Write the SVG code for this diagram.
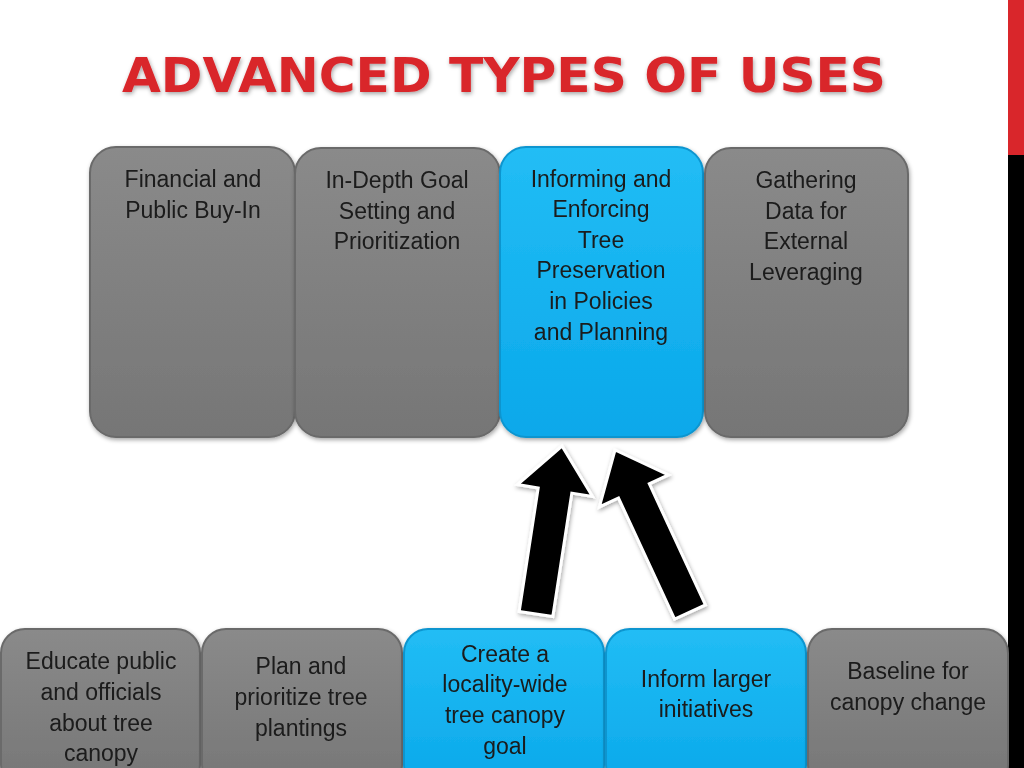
<svg xmlns="http://www.w3.org/2000/svg" width="1024" height="768" viewBox="0 0 1024 768">
<defs>
<linearGradient id="g" x1="0" y1="0" x2="0" y2="1"><stop offset="0" stop-color="#8a8a8a"/><stop offset="1" stop-color="#767676"/></linearGradient>
<linearGradient id="b" x1="0" y1="0" x2="0" y2="1"><stop offset="0" stop-color="#22bdf5"/><stop offset="1" stop-color="#0aa8ea"/></linearGradient>
<filter id="sh" x="-10%" y="-10%" width="120%" height="120%"><feDropShadow dx="1" dy="2" stdDeviation="2" flood-opacity="0.35"/></filter>
</defs>
<style>
.gray{fill:url(#g);stroke:#6a6a6a;stroke-width:2}
.blue{fill:url(#b);stroke:#0d95cf;stroke-width:2}
text{font-family:"Liberation Sans",Arial,sans-serif;font-size:23px;fill:#1a1a1a;text-anchor:middle}
.arrow{fill:#000;stroke:#fff;stroke-width:3;stroke-linejoin:miter}
</style>
<rect width="1024" height="768" fill="#fff"/>
<rect x="1008" y="0" width="16" height="155" fill="#d9262b"/>
<rect x="1008" y="155" width="16" height="613" fill="#000"/>
<text x="504" y="92" textLength="764" lengthAdjust="spacingAndGlyphs" style="font-size:48px;font-weight:bold;fill:#d9262b;filter:url(#sh);font-family:'DejaVu Sans',sans-serif">ADVANCED TYPES OF USES</text>
<g id="n1" filter="url(#sh)"><rect class="gray" x="90" y="147" width="205" height="290" rx="26"/><text x="193" y="187">Financial and</text><text x="193" y="218">Public Buy-In</text></g>
<g id="n2" filter="url(#sh)"><rect class="gray" x="295" y="148" width="205" height="289" rx="26"/><text x="397" y="188">In-Depth Goal</text><text x="397" y="219">Setting and</text><text x="397" y="249">Prioritization</text></g>
<g id="n3" filter="url(#sh)"><rect class="blue" x="500" y="147" width="203" height="290" rx="26"/><text x="601" y="187">Informing and</text><text x="601" y="217">Enforcing</text><text x="601" y="248">Tree</text><text x="601" y="278">Preservation</text><text x="601" y="309">in Policies</text><text x="601" y="340">and Planning</text></g>
<g id="n4" filter="url(#sh)"><rect class="gray" x="705" y="148" width="203" height="289" rx="26"/><text x="806" y="188">Gathering</text><text x="806" y="219">Data for</text><text x="806" y="249">External</text><text x="806" y="280">Leveraging</text></g>
<g id="n5" filter="url(#sh)"><rect class="gray" x="1" y="629" width="199" height="160" rx="24"/><text x="101" y="669">Educate public</text><text x="101" y="700">and officials</text><text x="101" y="731">about tree</text><text x="101" y="761">canopy</text></g>
<g id="n6" filter="url(#sh)"><rect class="gray" x="202" y="629" width="200" height="160" rx="24"/><text x="301" y="674">Plan and</text><text x="301" y="705">prioritize tree</text><text x="301" y="736">plantings</text></g>
<g id="n7" filter="url(#sh)"><rect class="blue" x="404" y="629" width="200" height="160" rx="24"/><text x="505" y="662">Create a</text><text x="505" y="692">locality-wide</text><text x="505" y="723">tree canopy</text><text x="505" y="754">goal</text></g>
<g id="n8" filter="url(#sh)"><rect class="blue" x="606" y="629" width="200" height="160" rx="24"/><text x="706" y="687">Inform larger</text><text x="706" y="717">initiatives</text></g>
<g id="n9" filter="url(#sh)"><rect class="gray" x="808" y="629" width="200" height="160" rx="24"/><text x="908" y="679">Baseline for</text><text x="908" y="710">canopy change</text></g>
<g id="connectors" filter="url(#sh)">
<polygon class="arrow" points="519.2,611.4 538.2,487.9 517.5,484.6 562,446 592.5,496.4 571.8,493.1 552.8,616.6"/>
<polygon class="arrow" points="674.6,619.1 618.5,498 599.4,506.9 615,450 668.4,474.9 649.3,483.8 705.4,604.9"/>
</g>
</svg>
